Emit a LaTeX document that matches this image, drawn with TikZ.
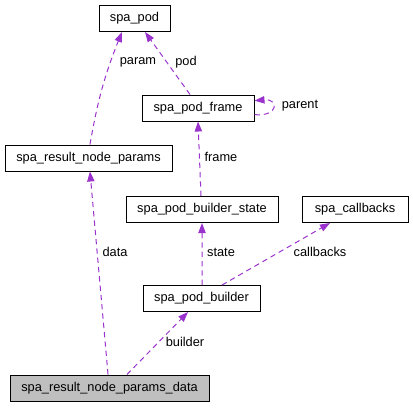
\documentclass[tikz,border=0pt]{standalone}
\usepackage{fontspec}
\setmainfont{Liberation Sans}
\usetikzlibrary{arrows.meta,positioning}
\definecolor{edgecol}{RGB}{154,50,205}
\definecolor{mainfill}{RGB}{191,191,191}

\begin{document}
\begin{tikzpicture}[x=0.75pt,y=-0.75pt,
    cls/.style={draw,line width=0.75pt,rectangle,minimum height=19.5pt,inner sep=0pt,
      font=\fontsize{9.6}{11}\selectfont},
    dep/.style={edgecol,line width=0.75pt,dash pattern=on 4pt off 3pt,
      -{Triangle[length=7.5pt,width=5.5pt]}},
    lbl/.style={inner sep=0pt,font=\fontsize{9.6}{11}\selectfont}]
    \useasboundingbox (0,0) rectangle (413,407);
    \node [cls,minimum width=53.25pt] (pod) at (134.5,18.5) {spa\_pod};
    \node [cls,minimum width=84pt] (frame) at (198,108) {spa\_pod\_frame};
    \node [cls,minimum width=125.25pt] (params) at (88.5,158) {spa\_result\_node\_params};
    \node [cls,minimum width=114pt] (state) at (202,209.5) {spa\_pod\_builder\_state};
    \node [cls,minimum width=79.5pt] (callbacks) at (355,209.5) {spa\_callbacks};
    \node [cls,minimum width=87.75pt] (builder) at (201.5,298.5) {spa\_pod\_builder};
    \node [cls,fill=mainfill,minimum width=149.25pt] (data) at (109.5,388) {spa\_result\_node\_params\_data};

    \draw[dep] ([xshift=1.1pt]params.north) to [bend left=6] ([xshift=-9.4pt]pod.south);
    \node[lbl] (lparam) at (138,62) {param};
    \draw[dep] ([xshift=-6pt]frame.north) -- ([xshift=7.9pt]pod.south);
    \node[lbl] (lpod) at (186,62) {pod};
    \draw[dep] ([yshift=-5pt]frame.east) to [out=-5,in=5,looseness=4.5] ([yshift=5.5pt]frame.east);
    \node[lbl] (lparent) at (300,106) {parent};
    \draw[dep] ([xshift=-0.75pt]state.north) -- (frame.south);
    \node[lbl] (lframe) at (221,157) {frame};
    \draw[dep] ([xshift=0.4pt]builder.north) -- (state.south);
    \node[lbl] (lstate) at (221,252) {state};
    \draw[dep] ([xshift=15.4pt]builder.north) -- ([xshift=-18.75pt]callbacks.south);
    \node[lbl] (lcallbacks) at (320,252) {callbacks};
    \draw[dep] ([xshift=-1.1pt]data.north) -- ([xshift=1.1pt]params.south);
    \node[lbl] (ldata) at (115,252) {data};
    \draw[dep] ([xshift=13.1pt]data.north) -- ([xshift=-10.1pt]builder.south);
    \node[lbl] (lbuilder) at (185,342) {builder};
  \end{tikzpicture}
\end{document}
